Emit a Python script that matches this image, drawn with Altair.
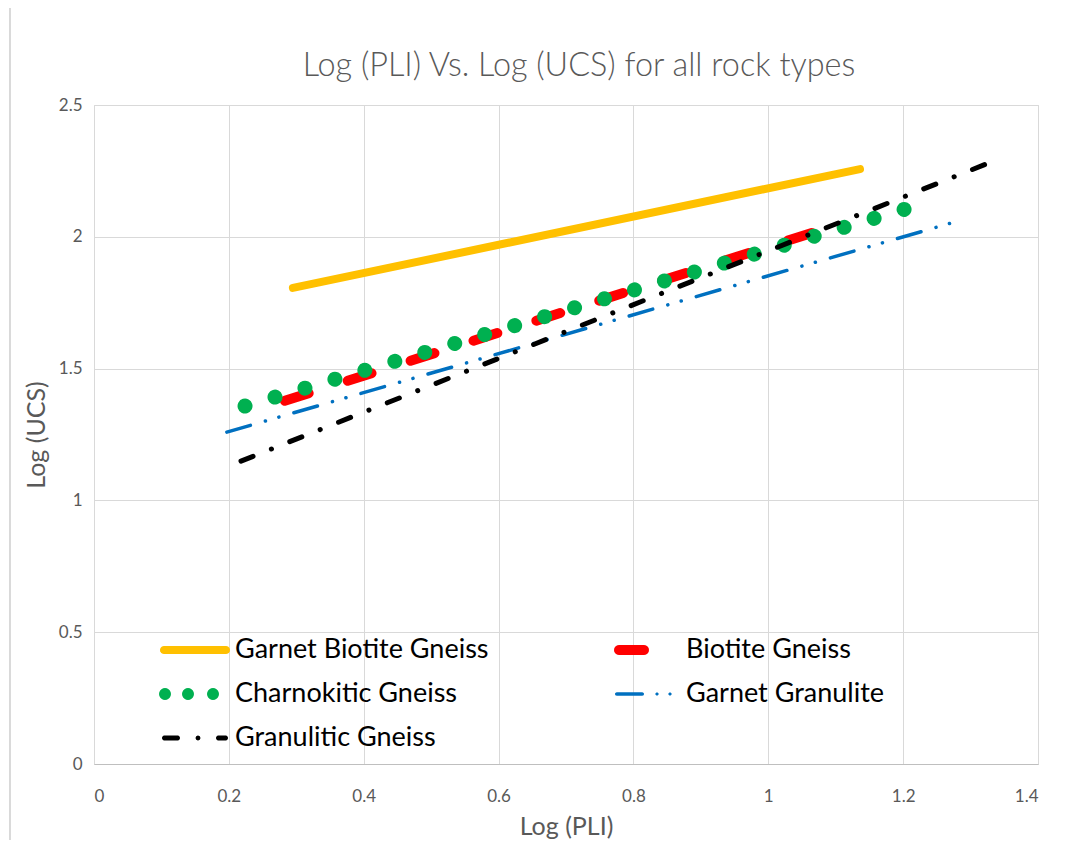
import math
import altair as alt
import pandas as pd

series = ["Garnet Biotite Gneiss", "Biotite Gneiss", "Charnokitic Gneiss",
          "Garnet Granulite", "Granulitic Gneiss"]
x_start = [0.295, 0.283, 0.224, 0.197, 0.218]
x_end = [1.136, 1.065, 1.203, 1.287, 1.323]
y_start = [1.806, 1.378, 1.358, 1.259, 1.149]
y_end = [2.257, 2.015, 2.105, 2.064, 2.276]

colors = ["#FFC000", "#FF0000", "#00B050", "#0070C0", "#000000"]
widths = [8, 10, 15, 3.5, 5]
dashes = [[2000, 0], [25, 41], [0.01, 31.25], [24.5, 15.6, 0.1, 13.9, 0.1, 15.6], [13, 19.7, 0.1, 19.7]]

x_ticks = [0, 0.2, 0.4, 0.6, 0.8, 1.0, 1.2, 1.4]
y_ticks = [0, 0.5, 1.0, 1.5, 2.0, 2.5]

# ---- legend symbol glyphs (filled outlines, px relative to symbol centre) ----
U = 36.0  # half of sqrt(symbolSize)


def pill(x0, x1, r, n=10):
    cx0, cx1 = x0 + r, x1 - r
    pts = []
    for k in range(n + 1):
        a = -math.pi / 2 + math.pi * k / n
        pts.append((cx1 + r * math.cos(a), r * math.sin(a)))
    for k in range(n + 1):
        a = math.pi / 2 + math.pi * k / n
        pts.append((cx0 + r * math.cos(a), r * math.sin(a)))
    return "M" + "L".join(f"{x / U:.4f},{y / U:.4f}" for x, y in pts) + "Z"


def dot(cx, r):
    return pill(cx - r, cx + r, r)


glyphs = [
    pill(-35, 35, 3.9),
    pill(-32, 3, 5),
    dot(-30, 6) + dot(-7, 6) + dot(18, 6),
    pill(-31, -2, 1.7) + dot(11, 1.6) + dot(24, 1.6),
    pill(-33, -15, 2.6) + dot(3, 2.4) + pill(21, 33, 2.6),
]
# Vega lays legend entries out column by column (3 rows x 2 columns)
legend_order = [0, 2, 4, 1, 3]

rows = []
for s, xs, xe, ys, ye in zip(series, x_start, x_end, y_start, y_end):
    rows.append({"series": s, "x": xs, "y": ys, "pt": 0})
    rows.append({"series": s, "x": xe, "y": ye, "pt": 1})
df = pd.DataFrame(rows)

FONT = "Lato"
GREY = "#595959"

xenc = alt.X("x:Q", scale=alt.Scale(domain=[0, 1.4], nice=False, zero=False),
             axis=alt.Axis(values=x_ticks, format="~g", title="Log (PLI)", ticks=False,
                           labelPadding=24, labelFontSize=17, labelColor=GREY, labelFont=FONT,
                           titleFontSize=25, titleFont=FONT, titleColor=GREY, titleFontWeight="normal",
                           titlePadding=10, grid=True, gridColor="#d9d9d9", domainColor="#bfbfbf"))
yenc = alt.Y("y:Q", scale=alt.Scale(domain=[0, 2.5], nice=False, zero=False),
             axis=alt.Axis(values=y_ticks, format="~g", title="Log (UCS)", ticks=False,
                           labelPadding=12, labelFontSize=17, labelColor=GREY, labelFont=FONT,
                           titleFontSize=25, titleFont=FONT, titleColor=GREY, titleFontWeight="normal",
                           titlePadding=9, grid=True, gridColor="#d9d9d9", domain=False))

layers = []
for i, s in enumerate(series):
    layers.append(
        alt.Chart(df).transform_filter(alt.datum.series == s)
        .mark_line(strokeCap="round", strokeJoin="round", clip=False, color=colors[i],
                   strokeWidth=widths[i], strokeDash=dashes[i])
        .encode(x=xenc, y=yenc, order="pt:Q")
    )

dom = [series[k] for k in legend_order]
legend = alt.Legend(
    title=None, orient="none", legendX=65, legendY=523, columns=2,
    symbolSize=5184, labelFontSize=27, labelFont=FONT, symbolStrokeWidth=0,
    labelColor="#000000", rowPadding=0, columnPadding=121, labelOffset=4,
    labelLimit=500, clipHeight=44,
)
legend_layer = alt.Chart(df).mark_point(size=0, filled=True, opacity=1, strokeWidth=0).encode(
    x=xenc, y=yenc,
    color=alt.Color("series:N", scale=alt.Scale(domain=dom, range=[colors[k] for k in legend_order]),
                    legend=legend),
    shape=alt.Shape("series:N", scale=alt.Scale(domain=dom, range=[glyphs[k] for k in legend_order]),
                    legend=legend),
)

border = alt.Chart(df).mark_rule(color="#d9d9d9", strokeWidth=1).encode(
    x=alt.value(-84), x2=alt.value(1000), y=alt.value(-99))
border2 = alt.Chart(df).mark_rule(color="#d9d9d9", strokeWidth=1).encode(
    x=alt.value(-84), y=alt.value(-99), y2=alt.value(760))

chart = alt.layer(border, border2, *layers, legend_layer).properties(
    width=944, height=659,
    padding={"left": 86, "top": 97, "right": 31, "bottom": 76},
    autosize="none",
    title=alt.TitleParams("Log (PLI) Vs. Log (UCS) for all rock types", fontSize=32.4, font=FONT,
                          fontWeight=300, color=GREY, anchor="middle", frame="group",
                          dx=13, dy=93, offset=16),
).configure_view(stroke="#d9d9d9").configure_axis(gridWidth=1)

chart.save("out.html", embed_options={"renderer": "svg", "actions": False})
